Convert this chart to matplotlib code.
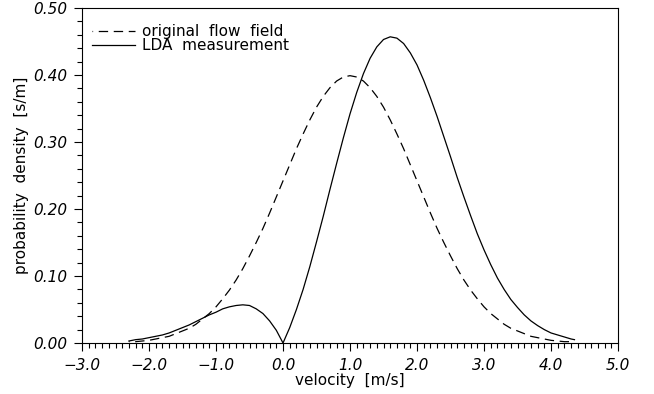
import numpy as np
import matplotlib
matplotlib.use("Agg")
import matplotlib.pyplot as plt
from matplotlib.ticker import MultipleLocator, FuncFormatter

velocity = np.round(np.arange(-2.3, 4.31, 0.1), 1)

# original flow field (dashed), probability density [s/m]
original = [0.002, 0.002, 0.003, 0.004, 0.006, 0.008, 0.010, 0.014, 0.018, 0.022,
            0.028, 0.036, 0.044, 0.054, 0.066, 0.079, 0.094, 0.111, 0.130, 0.150,
            0.171, 0.194, 0.218, 0.242, 0.266, 0.290, 0.312, 0.333, 0.352, 0.368,
            0.381, 0.391, 0.397, 0.399, 0.397, 0.391, 0.381, 0.368, 0.352, 0.333,
            0.312, 0.290, 0.266, 0.242, 0.218, 0.194, 0.171, 0.150, 0.130, 0.111,
            0.094, 0.079, 0.066, 0.054, 0.044, 0.036, 0.028, 0.022, 0.018, 0.014,
            0.010, 0.008, 0.006, 0.004, 0.003, 0.002, 0.002]

# LDA measurement (solid)
lda_velocity = list(velocity) + [4.35]
lda = [0.003, 0.005, 0.006, 0.008, 0.010, 0.012, 0.015, 0.019, 0.023, 0.027,
       0.032, 0.037, 0.042, 0.046, 0.051, 0.054, 0.056, 0.057, 0.056, 0.051,
       0.044, 0.033, 0.019, 0.000, 0.023, 0.050, 0.080, 0.114, 0.151, 0.189,
       0.229, 0.268, 0.306, 0.342, 0.374, 0.402, 0.425, 0.442, 0.453, 0.457,
       0.455, 0.447, 0.433, 0.415, 0.392, 0.366, 0.338, 0.308, 0.278, 0.247,
       0.218, 0.190, 0.163, 0.139, 0.117, 0.097, 0.080, 0.065, 0.053, 0.042,
       0.033, 0.026, 0.020, 0.015, 0.012, 0.009, 0.006, 0.005]

fig = plt.figure(figsize=(6.54, 3.94), dpi=100)
ax = fig.add_axes([0.1254, 0.1294, 0.8196, 0.8503])

ax.plot(velocity, original, color="black", lw=0.9, linestyle=(7, (7.5, 4.5)),
        label="original  flow  field")
ax.plot(lda_velocity, lda, color="black", lw=0.9, label="LDA  measurement")

ax.set_xlim(-3.0, 5.0)
ax.set_ylim(0.0, 0.5)
ax.xaxis.set_major_locator(MultipleLocator(1.0))
ax.xaxis.set_minor_locator(MultipleLocator(0.1))
ax.yaxis.set_major_locator(MultipleLocator(0.1))
ax.yaxis.set_minor_locator(MultipleLocator(0.02))
ax.xaxis.set_major_formatter(FuncFormatter(lambda v, p: f"{v:.1f}".replace("-", "\u2212")))
ax.yaxis.set_major_formatter(FuncFormatter(lambda v, p: f"{v:.2f}"))
ax.tick_params(which="both", direction="out", top=False, right=False,
               width=0.8, labelsize=11)
ax.tick_params(axis="x", which="major", length=5.5, pad=5)
ax.tick_params(axis="y", which="major", length=5.5, pad=5)
ax.tick_params(which="minor", length=3.5)
for lab in ax.get_xticklabels() + ax.get_yticklabels():
    lab.set_fontstyle("italic")
for sp in ax.spines.values():
    sp.set_linewidth(0.8)

ax.set_xlabel("velocity  [m/s]", fontsize=11, labelpad=0)
ax.set_ylabel("probability  density  [s/m]", fontsize=11, labelpad=3)

ax.legend(loc="upper left", bbox_to_anchor=(0.013, 0.961), frameon=False,
          fontsize=11, handlelength=2.8, handletextpad=0.5, labelspacing=-0.05,
          borderaxespad=0, borderpad=0.2)

fig.savefig("out.png", dpi=100)
